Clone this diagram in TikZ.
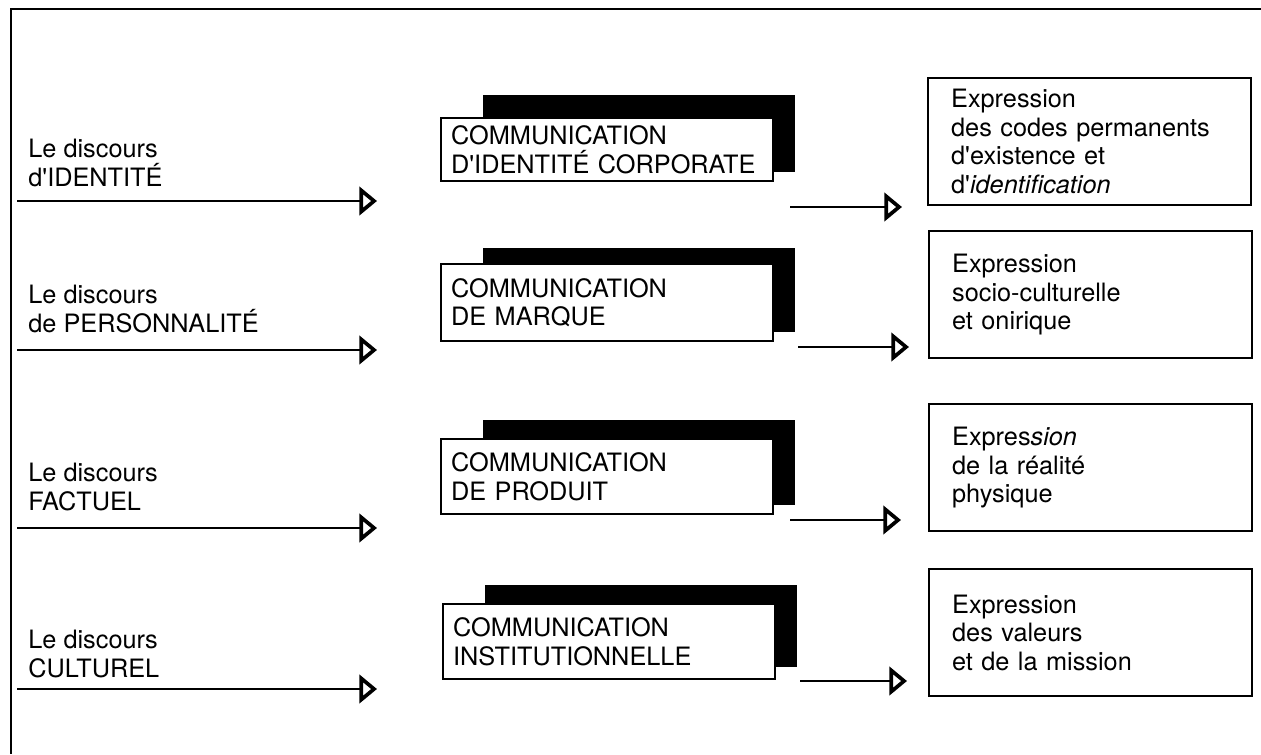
\documentclass[tikz,border=0pt]{standalone}
\usepackage{fontspec}
\setmainfont{TeX Gyre Heros}[Ligatures=TeXOff]
\usetikzlibrary{arrows.meta,calc,backgrounds}

\begin{document}
\begin{tikzpicture}[x=0.02cm, y=-0.02cm,
		every node/.style={font=\fontsize{14.4}{16.3}\selectfont},
		lefttext/.style={anchor=west, align=left, inner sep=0pt},
		combox/.style={draw, line width=1.3pt, fill=white, anchor=north west,
			minimum width=6.64cm, text width=6.24cm, inner xsep=0.2cm, align=left},
		exprbox/.style={draw, line width=1.3pt, anchor=north west,
			minimum width=6.46cm, minimum height=2.54cm, text width=5.54cm, inner xsep=0.46cm, align=left},
		flow/.style={line width=1.3pt, -{Triangle[open, length=10pt, width=16pt, line width=2.1pt]}}
	]
	
	\useasboundingbox (0, 0) rectangle (1261, 754);
	
	% cadre
	\draw [line width=1.1pt] (1261, 9) -- (11, 9) -- (11, 754);
	
	% les discours
	\node [lefttext] (d1) at (28, 163) {Le discours\\d'IDENTIT\'E};
	\node [lefttext] (d2) at (28, 309) {Le discours\\de PERSONNALIT\'E};
	\node [lefttext] (d3) at (28, 487) {Le discours\\FACTUEL};
	\node [lefttext] (d4) at (28, 654) {Le discours\\CULTUREL};
	
	\coordinate (s1) at (17, 201);
	\coordinate (t1) at (377, 201);
	\coordinate (s2) at (17, 350);
	\coordinate (t2) at (377, 350);
	\coordinate (s3) at (17, 528);
	\coordinate (t3) at (377, 528);
	\coordinate (s4) at (17, 689);
	\coordinate (t4) at (377, 689);
	\draw [flow] (s1) -- (t1);
	\draw [flow] (s2) -- (t2);
	\draw [flow] (s3) -- (t3);
	\draw [flow] (s4) -- (t4);
	
	% communication
	\node [combox, minimum height=1.26cm] (c1) at (440, 117) {COMMUNICATION\\D'IDENTIT\'E CORPORATE};
	\node [combox, minimum height=1.54cm] (c2) at (440, 263) {COMMUNICATION\\DE MARQUE};
	\node [combox, minimum height=1.5cm] (c3) at (440, 438) {COMMUNICATION\\DE PRODUIT};
	\node [combox, minimum height=1.5cm] (c4) at (442, 603) {COMMUNICATION\\INSTITUTIONNELLE};
	
	\begin{scope}[on background layer]
		\fill ($(c1.north west)+(43, -22)$) rectangle ($(c1.south east)+(21, -10)$);
		\fill ($(c2.north west)+(43, -15)$) rectangle ($(c2.south east)+(21, -10)$);
		\fill ($(c3.north west)+(43, -18)$) rectangle ($(c3.south east)+(21, -10)$);
		\fill ($(c4.north west)+(43, -18)$) rectangle ($(c4.south east)+(21, -13)$);
	\end{scope}
	
	\coordinate (o1) at (790, 207);
	\coordinate (e1) at (902, 207);
	\coordinate (o2) at (798, 347);
	\coordinate (e2) at (909, 347);
	\coordinate (o3) at (790, 520);
	\coordinate (e3) at (901, 520);
	\coordinate (o4) at (800, 681);
	\coordinate (e4) at (907, 681);
	\draw [flow] (o1) -- (e1);
	\draw [flow] (o2) -- (e2);
	\draw [flow] (o3) -- (e3);
	\draw [flow] (o4) -- (e4);
	
	% expression
	\node [exprbox] (x1) at (927, 77) {Expression\\des codes permanents\\d'existence et\\d'\textit{identification}\\[3pt]};
	\node [exprbox] (x2) at (928, 230) {Expression\\socio-culturelle\\et onirique};
	\node [exprbox] (x3) at (928, 403) {Expres\textit{sion}\\de la r\'ealit\'e\\physique\\[4pt]};
	\node [exprbox] (x4) at (928, 568) {Expression\\des valeurs\\et de la mission\\[4pt]};
	
\end{tikzpicture}
\end{document}
